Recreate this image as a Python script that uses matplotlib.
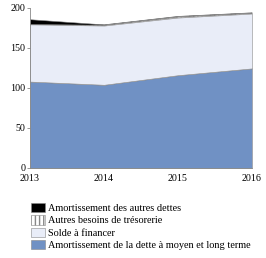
import numpy as np
import matplotlib.pyplot as plt
from matplotlib.patches import Patch

plt.rcParams['font.family'] = ['Liberation Serif', 'DejaVu Serif']

years = [2013, 2014, 2015, 2016]
amort_mlt = [108, 104, 116, 124.5]
solde = [71.5, 74, 72, 68.5]
autres_besoins = [0.5, 1, 1.5, 1]
amort_autres = [6, 0.5, 0.5, 0.5]

labels = ["Amortissement de la dette à moyen et long terme",
          "Solde à financer",
          "Autres besoins de trésorerie",
          "Amortissement des autres dettes"]
colors = ["#7091c4", "#e9edf8", "white", "black"]
hatches = [None, None, "||||", None]

fig = plt.figure(figsize=(2.66, 2.58), dpi=100)
ax = fig.add_axes([0.113, 0.349, 0.834, 0.62])

polys = ax.stackplot(years, amort_mlt, solde, autres_besoins, amort_autres,
                     colors=colors, edgecolor="#8a8a8a", linewidth=0.4)
for p, h in zip(polys, hatches):
    if h:
        p.set_hatch(h)
        p.set_edgecolor("#888888")

ax.set_xlim(2013, 2016)
ax.set_ylim(0, 200)
ax.set_xticks(years)
ax.set_yticks([0, 50, 100, 150, 200])
ax.tick_params(labelsize=7.2, length=2, width=0.6, color="#888888", pad=1.5)
ax.tick_params(axis="x", length=0, pad=4)
for s in ["top", "right"]:
    ax.spines[s].set_visible(False)
for s in ["left", "bottom"]:
    ax.spines[s].set_color("#888888")
    ax.spines[s].set_linewidth(0.6)

handles = [Patch(facecolor=c, edgecolor="#888888", hatch=h, linewidth=0.4)
           for c, h in zip(colors, hatches)]
fig.legend(handles[::-1], labels[::-1], loc="lower left",
           bbox_to_anchor=(0.115, 0.03), frameon=False, fontsize=7.4,
           handlelength=1.45, handleheight=1.0, handletextpad=0.2,
           labelspacing=0.22, borderpad=0, borderaxespad=0)

fig.savefig("out.png", dpi=100)
